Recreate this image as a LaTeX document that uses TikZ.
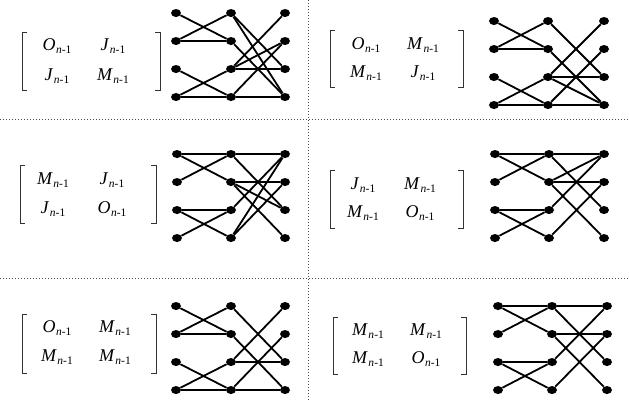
\documentclass[tikz,border=0pt]{standalone}
\usepackage{fontspec}
\setmainfont{Liberation Serif}
\usetikzlibrary{shapes.geometric}
\tikzset{
  dot/.style={ellipse,fill=black,draw=none,minimum width=10pt,minimum height=8pt,inner sep=0pt},
  edge/.style={line width=1.8pt},
  sep/.style={line width=0.8pt,black!70,dash pattern=on 1pt off 2pt},
  brk/.style={line width=0.8pt,black!80},
  ent/.style={inner sep=0pt,anchor=center}
}
\newcommand{\E}[1]{{\fontsize{18}{18}\selectfont\textit{#1}\kern0.5pt\raisebox{-3.5pt}{\fontsize{11.5}{11.5}\selectfont\textit{n}-1}}}
\newcommand{\mkcol}[4]{\foreach \i in {1,...,4}{\node[dot] (#1#2\i) at (#3,{#4+(\i-1)*28}) {};}}
\newcommand{\mkbrk}[5]{% name, xl, xr, ytop, ybot
  \coordinate (#1a) at (#2,#4); \coordinate (#1b) at (#3,#4);
  \coordinate (#1c) at (#2,#5); \coordinate (#1d) at (#3,#5);
  \draw[brk] ([xshift=5pt]#1a) -- (#1a) -- (#1c) -- ([xshift=5pt]#1c);
  \draw[brk] ([xshift=-5pt]#1b) -- (#1b) -- (#1d) -- ([xshift=-5pt]#1d);}
\begin{document}
\begin{tikzpicture}[x=1pt,y=-1pt]
\useasboundingbox (0,0) rectangle (629,400);
\fill[white] (0,0) rectangle (629,400);
% separators
\draw[sep] (308,0) -- (308,400);
\draw[sep] (0,119) -- (629,119);
\draw[sep] (0,278) -- (629,278);

% ---------- panel 1 ----------
\mkbrk{b1}{22}{160}{32}{90}
\node[ent] (t1a) at (57,46) {\E{O}};
\node[ent] (t1b) at (113,46) {\E{J}};
\node[ent] (t1c) at (57,76) {\E{J}};
\node[ent] (t1d) at (113,76) {\E{M}};
\mkcol{p1}{L}{176}{13}\mkcol{p1}{M}{231}{13}\mkcol{p1}{R}{285}{13}
\foreach \a/\b in {L1/M2,L2/M1,L2/M2,L3/M4,L4/M3,L4/M4,
  M1/R3,M1/R4,M2/R4,M3/R1,M3/R2,M4/R2,M3/R3,M4/R4}
  \draw[edge] (p1\a) -- (p1\b);

% ---------- panel 2 ----------
\mkbrk{b2}{330}{463}{30}{87}
\node[ent] (t2a) at (366,45) {\E{O}};
\node[ent] (t2b) at (423,45) {\E{M}};
\node[ent] (t2c) at (366,73) {\E{M}};
\node[ent] (t2d) at (423,73) {\E{J}};
\mkcol{p2}{L}{494}{21}\mkcol{p2}{M}{548}{21}\mkcol{p2}{R}{604}{21}
\foreach \a/\b in {L1/M2,L2/M1,L2/M2,L3/M4,L4/M3,L4/M4,
  M1/R3,M2/R4,M3/R1,M4/R2,M3/R3,M3/R4,M4/R4}
  \draw[edge] (p2\a) -- (p2\b);

% ---------- panel 3 ----------
\mkbrk{b3}{20}{156}{165}{223}
\node[ent] (t3a) at (53,180) {\E{M}};
\node[ent] (t3b) at (112,180) {\E{J}};
\node[ent] (t3c) at (53,209) {\E{J}};
\node[ent] (t3d) at (112,209) {\E{O}};
\mkcol{p3}{L}{177}{154}\mkcol{p3}{M}{231}{154}\mkcol{p3}{R}{285}{154}
\foreach \a/\b in {L1/M1,L1/M2,L2/M1,L3/M3,L3/M4,L4/M3,
  M1/R1,M2/R2,M1/R3,M2/R3,M2/R4,M3/R1,M4/R1,M4/R2}
  \draw[edge] (p3\a) -- (p3\b);

% ---------- panel 4 ----------
\mkbrk{b4}{330}{463}{170}{228}
\node[ent] (t4a) at (363,185) {\E{J}};
\node[ent] (t4b) at (420,185) {\E{M}};
\node[ent] (t4c) at (363,213) {\E{M}};
\node[ent] (t4d) at (420,213) {\E{O}};
\mkcol{p4}{L}{495}{154}\mkcol{p4}{M}{549}{154}\mkcol{p4}{R}{604}{154}
\foreach \a/\b in {L1/M1,L1/M2,L2/M1,L3/M3,L3/M4,L4/M3,
  M1/R1,M2/R1,M2/R2,M1/R3,M2/R4,M3/R1,M4/R2}
  \draw[edge] (p4\a) -- (p4\b);

% ---------- panel 5 ----------
\mkbrk{b5}{22}{156}{314}{373}
\node[ent] (t5a) at (57,328) {\E{O}};
\node[ent] (t5b) at (115,328) {\E{M}};
\node[ent] (t5c) at (57,357) {\E{M}};
\node[ent] (t5d) at (115,357) {\E{M}};
\mkcol{p5}{L}{176}{306}\mkcol{p5}{M}{231}{306}\mkcol{p5}{R}{285}{306}
\foreach \a/\b in {L1/M2,L2/M1,L2/M2,L3/M4,L4/M3,L4/M4,
  M1/R3,M2/R4,M3/R1,M4/R2,M3/R3,M4/R4}
  \draw[edge] (p5\a) -- (p5\b);

% ---------- panel 6 ----------
\mkbrk{b6}{333}{466}{317}{374}
\node[ent] (t6a) at (368,331) {\E{M}};
\node[ent] (t6b) at (426,331) {\E{M}};
\node[ent] (t6c) at (368,359) {\E{M}};
\node[ent] (t6d) at (426,359) {\E{O}};
\mkcol{p6}{L}{498}{306}\mkcol{p6}{M}{552}{306}\mkcol{p6}{R}{607}{306}
\foreach \a/\b in {L1/M1,L1/M2,L2/M1,L3/M3,L3/M4,L4/M3,
  M1/R1,M2/R2,M1/R3,M2/R4,M3/R1,M4/R2}
  \draw[edge] (p6\a) -- (p6\b);
\end{tikzpicture}
\end{document}
